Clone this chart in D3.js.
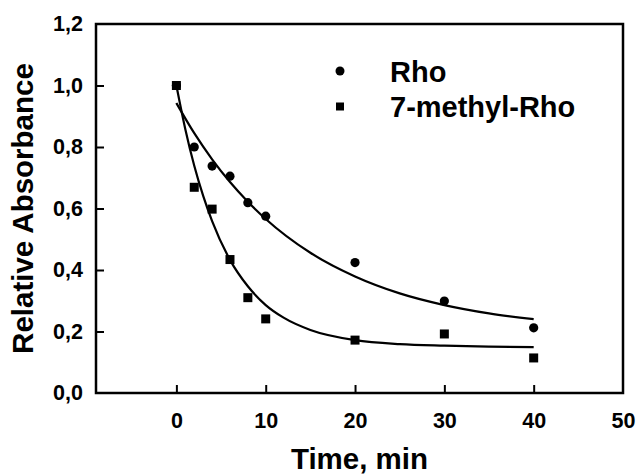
<!DOCTYPE html>
<html>
<head>
<meta charset="utf-8">
<script src="https://cdn.jsdelivr.net/npm/d3@7"></script>
<style>
  html, body { margin: 0; padding: 0; background: #fff; }
  svg text { font-family: "Liberation Sans", Arial, Helvetica, sans-serif; font-weight: bold; fill: #000; }
</style>
</head>
<body>
<svg id="chart" width="637" height="474"></svg>
<script>
// ---- data ----
const timeRho = [0, 2, 4, 6, 8, 10, 20, 30, 40];
const rhoValues = [1.0, 0.80, 0.738, 0.705, 0.619, 0.575, 0.424, 0.299, 0.212];
const timeMethyl = [0, 2, 4, 6, 8, 10, 20, 30, 40];
const methylValues = [1.0, 0.669, 0.598, 0.434, 0.310, 0.241, 0.172, 0.192, 0.114];

// fitted curves as drawn in the reference
const fitTimeRho = [0, 2, 4, 6, 8, 10, 15, 20, 25, 30, 35, 40];
const fitRho = [0.943, 0.845, 0.760, 0.686, 0.622, 0.566, 0.456, 0.379, 0.324, 0.286, 0.259, 0.240];
const fitTimeMethyl = [0, 1, 2, 3, 4, 6, 8, 10, 12, 15, 20, 25, 30, 35, 40];
const fitMethyl = [1.0, 0.858, 0.739, 0.641, 0.559, 0.433, 0.347, 0.286, 0.245, 0.205, 0.172, 0.159, 0.154, 0.151, 0.149];

const xTickValues = [0, 10, 20, 30, 40, 50];
const xTickLabels = ["0", "10", "20", "30", "40", "50"];
const yTickValues = [0, 0.2, 0.4, 0.6, 0.8, 1.0, 1.2];
const yTickLabels = ["0,0", "0,2", "0,4", "0,6", "0,8", "1,0", "1,2"];
const seriesNames = ["Rho", "7-methyl-Rho"];
const xTitle = "Time, min";
const yTitle = "Relative Absorbance";

// ---- layout ----
const svg = d3.select("#chart");
const L = 96, R = 623, T = 24, B = 393;
const x = d3.scaleLinear().domain([-9, 50]).range([L, R]);
const y = d3.scaleLinear().domain([0, 1.2]).range([B, T]);

// x ticks (inward) and labels
const xAxis = d3.axisBottom(x)
  .tickValues(xTickValues)
  .tickFormat((d, i) => xTickLabels[i])
  .tickSizeInner(-8).tickSizeOuter(0).tickPadding(20);
const gx = svg.append("g").attr("transform", `translate(0,${B})`).call(xAxis);
gx.select(".domain").remove();
gx.selectAll(".tick line").attr("stroke", "#000").attr("stroke-width", 2)
  .attr("display", d => d === 50 ? "none" : null);
gx.selectAll(".tick text").attr("font-size", 21.5).attr("dy", "0.71em")
  .attr("font-family", "Liberation Sans, Arial, sans-serif").attr("font-weight", "bold");

// y ticks (inward) and labels
const yAxis = d3.axisLeft(y)
  .tickValues(yTickValues)
  .tickFormat((d, i) => yTickLabels[i])
  .tickSizeInner(-8).tickSizeOuter(0).tickPadding(20);
const gy = svg.append("g").attr("transform", `translate(${L},0)`).call(yAxis);
gy.select(".domain").remove();
gy.selectAll(".tick line").attr("stroke", "#000").attr("stroke-width", 2)
  .attr("display", d => (d === 1.2 || d === 0) ? "none" : null);
gy.selectAll(".tick text").attr("font-size", 21.5).attr("x", -13)
  .attr("font-family", "Liberation Sans, Arial, sans-serif").attr("font-weight", "bold");

// frame
svg.append("rect").attr("x", L).attr("y", T).attr("width", R - L).attr("height", B - T)
  .attr("fill", "none").attr("stroke", "#000").attr("stroke-width", 2.5);

// fitted lines
const line = d3.line().x(d => x(d[0])).y(d => y(d[1])).curve(d3.curveMonotoneX);
svg.append("path").datum(fitTimeRho.map((t, i) => [t, fitRho[i]]))
  .attr("d", line).attr("fill", "none").attr("stroke", "#000").attr("stroke-width", 2.2);
svg.append("path").datum(fitTimeMethyl.map((t, i) => [t, fitMethyl[i]]))
  .attr("d", line).attr("fill", "none").attr("stroke", "#000").attr("stroke-width", 2.2);

// markers
const sq = 9;
svg.append("g").selectAll("rect").data(timeMethyl.map((t, i) => [t, methylValues[i]]))
  .join("rect")
  .attr("x", d => x(d[0]) - sq / 2).attr("y", d => y(d[1]) - sq / 2)
  .attr("width", sq).attr("height", sq).attr("fill", "#000");
svg.append("g").selectAll("circle").data(timeRho.map((t, i) => [t, rhoValues[i]]))
  .join("circle")
  .attr("cx", d => x(d[0])).attr("cy", d => y(d[1])).attr("r", 4.6).attr("fill", "#000");

// legend
const lg = svg.append("g");
lg.append("circle").attr("cx", 340).attr("cy", 71).attr("r", 4.5).attr("fill", "#000");
lg.append("rect").attr("x", 336).attr("y", 102.5).attr("width", 8).attr("height", 8).attr("fill", "#000");
lg.append("text").attr("x", 390).attr("y", 81.5).attr("font-size", 29).text(seriesNames[0]);
lg.append("text").attr("x", 390).attr("y", 117).attr("font-size", 29).text(seriesNames[1]);

// axis titles
svg.append("text").attr("x", (L + R) / 2).attr("y", 469).attr("text-anchor", "middle")
  .attr("font-size", 29.5).text(xTitle);
svg.append("text").attr("transform", `translate(33,${(T + B) / 2}) rotate(-90)`)
  .attr("text-anchor", "middle").attr("font-size", 29.5).text(yTitle);
</script>
</body>
</html>
